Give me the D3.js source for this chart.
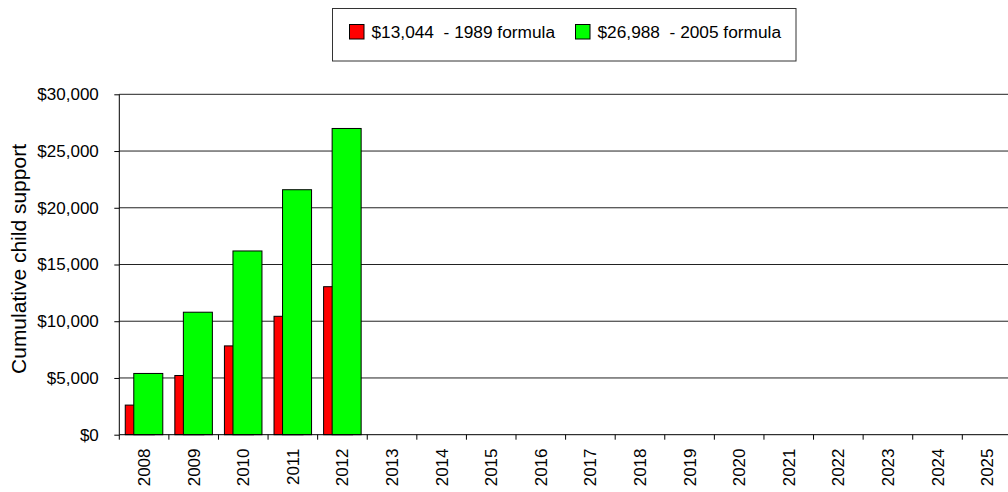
<!DOCTYPE html>
<html>
<head>
<meta charset="utf-8">
<script src="https://cdn.jsdelivr.net/npm/d3@7"></script>
<style>
  body { margin: 0; background: #fff; }
  svg { display: block; font-family: "Liberation Sans", Arial, sans-serif; }
</style>
</head>
<body>
<svg id="chart"></svg>
<script>
// categories along the x axis
var years = ["2008", "2009", "2010", "2011", "2012", "2013", "2014", "2015", "2016",
             "2017", "2018", "2019", "2020", "2021", "2022", "2023", "2024", "2025"];
// cumulative support, only first 5 years have values
var formula1989 = [2609, 5218, 7826, 10435, 13044];
var formula2005 = [5398, 10795, 16193, 21590, 26988];
var legendLabels = ["$13,044  - 1989 formula", "$26,988  - 2005 formula"];
var yTicks = [0, 5000, 10000, 15000, 20000, 25000, 30000];

var svgWidth = 1008, svgHeight = 492;
// plot area edges (note: "top" is a reserved window global, so use other names)
var plotLeft = 119.3, plotRight = 1011.9, plotTop = 94.3, plotBottom = 434.7;

var svg = d3.select("#chart")
    .attr("width", svgWidth)
    .attr("height", svgHeight);

var x = d3.scaleBand()
    .domain(years)
    .range([plotLeft, plotRight])
    .paddingInner(0)
    .paddingOuter(0);

var y = d3.scaleLinear()
    .domain([0, 30000])
    .range([plotBottom, plotTop]);

var fmt = d3.format(",");

// gridlines
svg.append("g")
    .selectAll("line")
    .data(yTicks.slice(1))
    .join("line")
    .attr("x1", plotLeft)
    .attr("x2", svgWidth)
    .attr("y1", function(d) { return y(d); })
    .attr("y2", function(d) { return y(d); })
    .attr("stroke", "#222")
    .attr("stroke-width", 1);

// bars - red first, green overlapping it
var bw = x.bandwidth() * 0.585;
var bars = svg.append("g");

bars.selectAll("rect.red")
    .data(formula1989)
    .join("rect")
    .attr("class", "red")
    .attr("x", function(d, i) { return x(years[i]) + x.bandwidth() * 0.12; })
    .attr("y", function(d) { return y(d); })
    .attr("width", bw)
    .attr("height", function(d) { return y(0) - y(d); })
    .attr("fill", "#ff0000")
    .attr("stroke", "#000")
    .attr("stroke-width", 1);

bars.selectAll("rect.green")
    .data(formula2005)
    .join("rect")
    .attr("class", "green")
    .attr("x", function(d, i) { return x(years[i]) + x.bandwidth() * 0.292; })
    .attr("y", function(d) { return y(d); })
    .attr("width", bw)
    .attr("height", function(d) { return y(0) - y(d); })
    .attr("fill", "#00ff00")
    .attr("stroke", "#000")
    .attr("stroke-width", 1);

// y axis
var yAxis = svg.append("g")
    .attr("transform", "translate(" + plotLeft + ",0)")
    .call(d3.axisLeft(y)
        .tickValues(yTicks)
        .tickSize(5)
        .tickPadding(15.5)
        .tickFormat(function(d) { return "$" + fmt(d); }));
yAxis.select(".domain").attr("stroke", "#000").attr("d", "M0," + plotTop + "V" + plotBottom);
yAxis.selectAll("text")
    .style("font-size", "17px")
    .style("font-family", "Liberation Sans, Arial, sans-serif")
    .attr("fill", "#000");

// x axis - ticks between categories like excel
var xAxis = svg.append("g")
    .attr("transform", "translate(0," + plotBottom + ")");
xAxis.append("line")
    .attr("x1", plotLeft)
    .attr("x2", svgWidth)
    .attr("stroke", "#000");
xAxis.selectAll("line.tick")
    .data(years)
    .join("line")
    .attr("class", "tick")
    .attr("x1", function(d) { return x(d); })
    .attr("x2", function(d) { return x(d); })
    .attr("y1", 0)
    .attr("y2", 5)
    .attr("stroke", "#000");
xAxis.selectAll("text")
    .data(years)
    .join("text")
    .attr("transform", function(d) {
        return "translate(" + (x(d) + x.bandwidth() / 2 + 6) + ",13.8) rotate(-90)";
    })
    .attr("text-anchor", "end")
    .style("font-size", "17px")
    .attr("fill", "#000")
    .text(function(d) { return d; });

// y axis title
svg.append("text")
    .attr("transform", "translate(26,259) rotate(-90)")
    .attr("text-anchor", "middle")
    .style("font-size", "21px")
    .attr("fill", "#000")
    .text("Cumulative child support");

// legend
var legend = svg.append("g");
legend.append("rect")
    .attr("x", 332.5)
    .attr("y", 8.5)
    .attr("width", 463.5)
    .attr("height", 52.5)
    .attr("fill", "#fff")
    .attr("stroke", "#333");

var legendX = [349.5, 575.5];
var legendColors = ["#ff0000", "#00ff00"];
legendLabels.forEach(function(label, i) {
    legend.append("rect")
        .attr("x", legendX[i])
        .attr("y", 24.5)
        .attr("width", 14.5)
        .attr("height", 14.5)
        .attr("fill", legendColors[i])
        .attr("stroke", "#000");
    legend.append("text")
        .attr("x", legendX[i] + 22)
        .attr("y", 38)
        .attr("xml:space", "preserve")
        .style("white-space", "pre")
        .style("font-size", "17.3px")
        .attr("fill", "#000")
        .text(label);
});
</script>
</body>
</html>
